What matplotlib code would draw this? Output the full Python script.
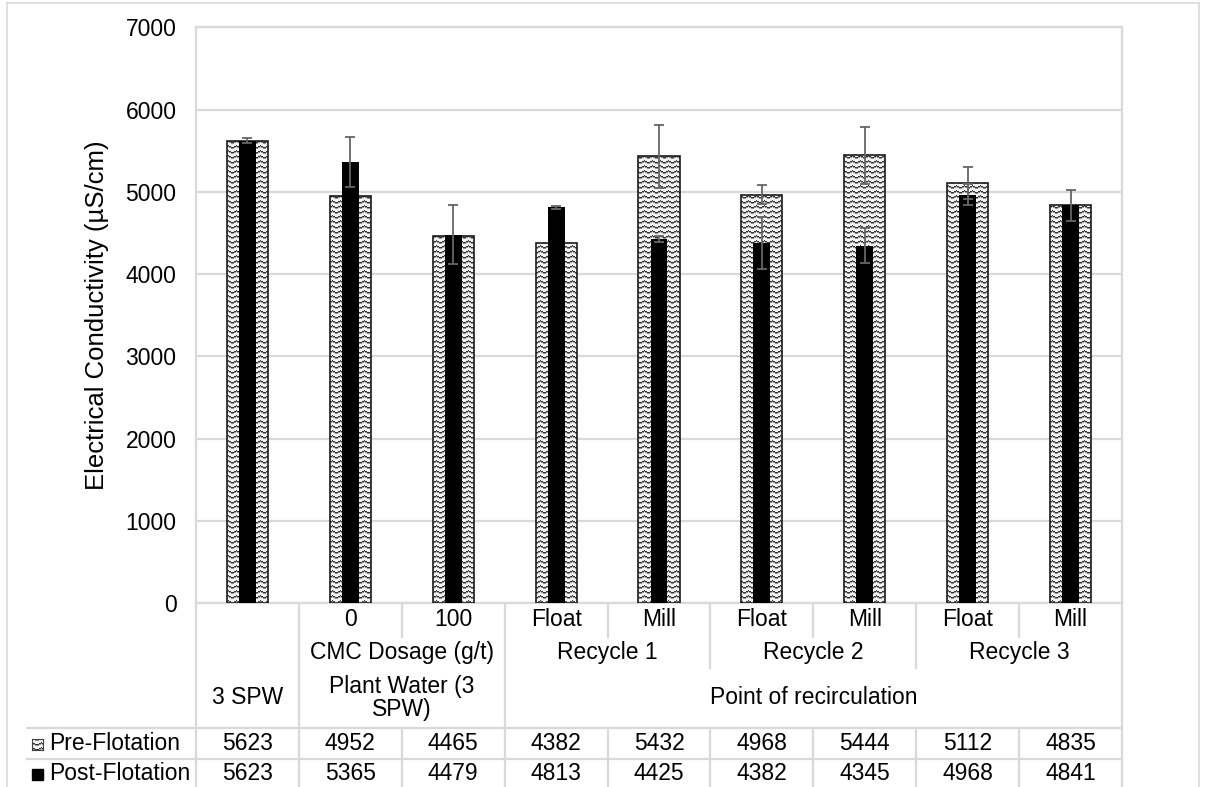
import numpy as np
import matplotlib
matplotlib.use("Agg")
import matplotlib.pyplot as plt
from matplotlib import transforms
from matplotlib.path import Path
from matplotlib.patches import PathPatch, Rectangle

plt.rcParams['font.family'] = ['Liberation Sans', 'DejaVu Sans']

# conductivity per sample, uS/cm
sub_labels = ["", "0", "100", "Float", "Mill", "Float", "Mill", "Float", "Mill"]
mid_groups = [("CMC Dosage (g/t)", 1, 2), ("Recycle 1", 3, 4),
              ("Recycle 2", 5, 6), ("Recycle 3", 7, 8)]
top_groups = [("3 SPW", 0, 0), ("Plant Water (3\nSPW)", 1, 2),
              ("Point of recirculation", 3, 8)]
pre = [5623, 4952, 4465, 4382, 5432, 4968, 5444, 5112, 4835]
post = [5623, 5365, 4479, 4813, 4425, 4382, 4345, 4968, 4841]
pre_err = [0, 0, 0, 0, 385, 115, 350, 195, 190]
post_err = [32, 305, 360, 20, 40, 315, 215, 128, 0]
series = ["Pre-Flotation", "Post-Flotation"]

W, H = 1206, 787
fig = plt.figure(figsize=(W / 100, H / 100), dpi=100)
ax = fig.add_axes([196 / W, 1 - 603.3 / H, 926 / W, 576 / H])

grid_c = "#d9d9d9"
fs = 16.5
x = np.arange(len(pre))


def wave_texture(rows, cols):
    r = np.arange(rows)[:, None]
    c = np.arange(cols)[None, :]
    tri = np.abs((c % 8) - 4)
    k = (r + tri // 2) % 5
    img = np.full((rows, cols, 3), 0.95)
    img[k == 0] = 0.2
    img[k == 1] = 0.58
    return img


# pre-flotation bars: outline plus wave fill clipped to the bars
pre_bars = ax.bar(x, pre, width=0.40, color="none", edgecolor="#1a1a1a",
                  linewidth=1.2, zorder=3)
paths = [b.get_path().transformed(b.get_patch_transform()) for b in pre_bars]
clip = PathPatch(Path.make_compound_path(*paths), transform=ax.transData,
                 facecolor="none", edgecolor="none")
im = ax.imshow(wave_texture(576, 926), extent=(-0.5, 8.5, 0, 7000),
               aspect="auto", interpolation="nearest", zorder=2)
im.set_clip_path(clip)

ax.bar(x, post, width=0.165, color="black", zorder=4)

for vals, errs in ((pre, pre_err), (post, post_err)):
    idx = [i for i, e in enumerate(errs) if e > 0]
    ax.errorbar(x[idx], np.array(vals)[idx], yerr=np.array(errs)[idx],
                fmt="none", ecolor="#666666", elinewidth=1.3, capsize=3.5,
                capthick=1.3, zorder=5)

ax.set_xlim(-0.5, 8.5)
ax.set_ylim(0, 7000)
ax.set_yticks(range(0, 7001, 1000))
ax.tick_params(axis="y", length=0, labelsize=fs, pad=14)
ax.set_xticks([])
ax.yaxis.grid(True, color=grid_c, linewidth=1.6)
ax.set_axisbelow(True)
for s in ax.spines.values():
    s.set_color(grid_c)
    s.set_linewidth(1.6)
ax.set_ylabel("Electrical Conductivity (\u00b5S/cm)", fontsize=18.5, labelpad=12)

# data table below the plot
tr = transforms.blended_transform_factory(ax.transData, fig.transFigure)


def fy(ypx):
    return 1 - ypx / H


def vline(xd, y0, y1):
    ax.plot([xd, xd], [fy(y0), fy(y1)], transform=tr, clip_on=False,
            color=grid_c, linewidth=1.6)


y_row1, y_row2, y_row3 = 637, 668, 727.7
y_data2, y_bot = 759, 787

vline(-0.5, 603.3, y_bot)
vline(8.5, 603.3, y_bot)
for b in np.arange(0.5, 8.5):
    if b in (0.5, 2.5):
        vline(b, 603.3, y_bot)
    elif b in (4.5, 6.5):
        vline(b, 603.3, y_row2)
        vline(b, y_row3, y_bot)
    else:
        vline(b, 603.3, y_row1)
        vline(b, y_row3, y_bot)

for yy in (y_row3, y_data2):
    fig.add_artist(plt.Line2D([27 / W, 1122 / W], [fy(yy), fy(yy)],
                              color=grid_c, linewidth=1.6))

for i, lab in enumerate(sub_labels):
    ax.text(i, fy(620), lab, transform=tr, ha="center", va="center", fontsize=fs)
for lab, a, b in mid_groups:
    ax.text((a + b) / 2, fy(653), lab, transform=tr, ha="center", va="center",
            fontsize=fs)
for lab, a, b in top_groups:
    ax.text((a + b) / 2, fy(698), lab, transform=tr, ha="center", va="center",
            fontsize=fs, linespacing=1.0)
for i in range(len(pre)):
    ax.text(i, fy(744), str(pre[i]), transform=tr, ha="center", va="center",
            fontsize=fs)
    ax.text(i, fy(774), str(post[i]), transform=tr, ha="center", va="center",
            fontsize=fs)

# series keys in the first column
key_ax = fig.add_axes([32 / W, fy(750), 11 / W, 11 / H])
key_ax.imshow(wave_texture(11, 11), interpolation="nearest", aspect="auto")
key_ax.set_xticks([])
key_ax.set_yticks([])
for s in key_ax.spines.values():
    s.set_color("#404040")
    s.set_linewidth(0.8)
fig.add_artist(Rectangle((32 / W, fy(780)), 11 / W, 11 / H, color="black"))
fig.text(49 / W, fy(744), series[0], ha="left", va="center", fontsize=fs)
fig.text(49 / W, fy(774), series[1], ha="left", va="center", fontsize=fs)

# chart area border
fig.add_artist(plt.Line2D([7 / W, 7 / W], [0, fy(3)], color=grid_c, linewidth=1.2))
fig.add_artist(plt.Line2D([7 / W, 1199 / W], [fy(3), fy(3)], color=grid_c,
                          linewidth=1.2))
fig.add_artist(plt.Line2D([1199 / W, 1199 / W], [fy(3), 0], color=grid_c,
                          linewidth=1.2))

fig.savefig("out.png", dpi=100)
